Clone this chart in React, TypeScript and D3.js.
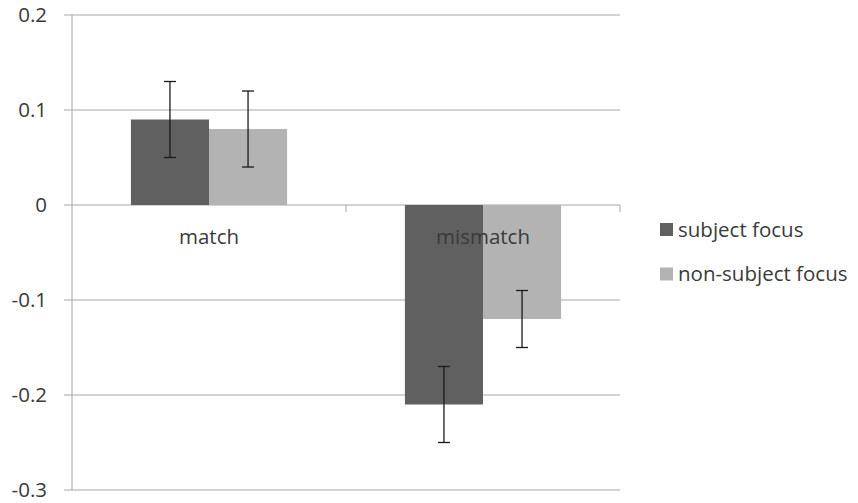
import React, { useEffect, useRef } from 'react';
import * as d3 from 'd3';

// chart data
const categories = ['match', 'mismatch'];
const seriesNames = ['subject focus', 'non-subject focus'];
const seriesColors = ['#606060', '#b3b3b3'];
const subjectValues = [0.09, -0.21];
const nonSubjectValues = [0.08, -0.12];
const subjectErrors = [0.04, 0.04];
const nonSubjectErrors = [0.04, 0.03];
const yTicks = [0.2, 0.1, 0, -0.1, -0.2, -0.3];
const yTickLabels = ['0.2', '0.1', '0', '-0.1', '-0.2', '-0.3'];

interface BarDatum {
  category: string;
  series: number;
  value: number;
  err: number;
}

export default function App() {
  const svgRef = useRef<SVGSVGElement | null>(null);

  useEffect(() => {
    if (!svgRef.current) return;
    d3.select(svgRef.current).selectAll('*').remove();

    const width = 858;
    const height = 503;
    const margin = { top: 15, right: 238, bottom: 13, left: 72 };
    const innerWidth = width - margin.left - margin.right;
    const innerHeight = height - margin.top - margin.bottom;
    const font = '"Open Sans", Calibri, sans-serif';
    const fontSize = '20.5px';
    const textColor = '#3a3a3a';

    const svg = d3.select(svgRef.current)
      .attr('width', width)
      .attr('height', height)
      .attr('viewBox', `0 0 ${width} ${height}`)
      .style('font-family', font);

    svg.append('rect').attr('width', width).attr('height', height).attr('fill', '#fff');

    const g = svg.append('g').attr('transform', `translate(${margin.left},${margin.top})`);

    const x = d3.scaleBand<string>()
      .domain(categories)
      .range([0, innerWidth]);

    const groupWidth = x.bandwidth() * 0.57;
    const xSeries = d3.scaleBand<number>()
      .domain(seriesNames.map((_, i) => i))
      .range([0, groupWidth]);

    const y = d3.scaleLinear()
      .domain([-0.3, 0.2])
      .range([innerHeight, 0]);

    // gridlines + y tick labels
    yTicks.forEach((t, i) => {
      g.append('line')
        .attr('x1', -8)
        .attr('x2', innerWidth)
        .attr('y1', y(t))
        .attr('y2', y(t))
        .attr('stroke', '#a6a6a6')
        .attr('stroke-width', 1);

      g.append('text')
        .attr('x', -25)
        .attr('y', y(t))
        .attr('dy', '0.35em')
        .attr('text-anchor', 'end')
        .attr('font-size', fontSize)
        .attr('fill', textColor)
        .text(yTickLabels[i]);
    });

    // y axis line
    g.append('line')
      .attr('x1', 0).attr('x2', 0)
      .attr('y1', 0).attr('y2', innerHeight)
      .attr('stroke', '#a6a6a6');

    // category ticks on zero line
    categories.forEach(c => {
      const xe = (x(c) ?? 0) + x.bandwidth();
      g.append('line')
        .attr('x1', xe).attr('x2', xe)
        .attr('y1', y(0)).attr('y2', y(0) + 7)
        .attr('stroke', '#a6a6a6');
    });

    const bars: BarDatum[] = [];
    categories.forEach((c, ci) => {
      bars.push({ category: c, series: 0, value: subjectValues[ci], err: subjectErrors[ci] });
      bars.push({ category: c, series: 1, value: nonSubjectValues[ci], err: nonSubjectErrors[ci] });
    });

    const barX = (d: BarDatum) =>
      (x(d.category) ?? 0) + (x.bandwidth() - groupWidth) / 2 + (xSeries(d.series) ?? 0);

    g.selectAll('.bar')
      .data(bars)
      .enter()
      .append('rect')
      .attr('class', 'bar')
      .attr('x', d => barX(d))
      .attr('width', xSeries.bandwidth())
      .attr('y', d => y(Math.max(0, d.value)))
      .attr('height', d => Math.abs(y(d.value) - y(0)))
      .attr('fill', d => seriesColors[d.series]);

    // category labels
    categories.forEach(c => {
      g.append('text')
        .attr('x', (x(c) ?? 0) + x.bandwidth() / 2)
        .attr('y', y(0) + 39)
        .attr('text-anchor', 'middle')
        .attr('font-size', fontSize)
        .attr('fill', textColor)
        .text(c);
    });

    // error bars
    const cap = 6;
    bars.forEach(d => {
      const cx = barX(d) + xSeries.bandwidth() / 2;
      const eg = g.append('g').attr('stroke', '#1a1a1a').attr('stroke-width', 1.3);
      eg.append('line')
        .attr('x1', cx).attr('x2', cx)
        .attr('y1', y(d.value + d.err)).attr('y2', y(d.value - d.err));
      [d.value + d.err, d.value - d.err].forEach(v => {
        eg.append('line')
          .attr('x1', cx - cap).attr('x2', cx + cap)
          .attr('y1', y(v)).attr('y2', y(v));
      });
    });

    // legend
    const legend = svg.append('g').attr('transform', 'translate(660, 223)');
    seriesNames.forEach((name, i) => {
      const row = legend.append('g').attr('transform', `translate(0, ${i * 44.5})`);
      row.append('rect')
        .attr('width', 13)
        .attr('height', 13)
        .attr('fill', seriesColors[i]);
      row.append('text')
        .attr('x', 18)
        .attr('y', 13.5)
        .attr('font-size', fontSize)
        .attr('fill', textColor)
        .text(name);
    });
  }, []);

  return (
    <div style={{ position: 'absolute', left: 0, top: 0 }}>
      <svg ref={svgRef} style={{ display: 'block' }}></svg>
    </div>
  );
}
